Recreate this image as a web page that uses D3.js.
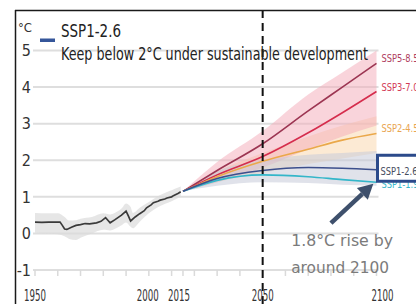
<!DOCTYPE html>
<html><head><meta charset="utf-8">
<script src="https://cdn.jsdelivr.net/npm/d3@7"></script>
<style>
html,body{margin:0;padding:0;background:#fff;}
svg{display:block;}
.narrow{font-family:"Liberation Sans Narrow","Arial Narrow","DejaVu Sans Condensed",sans-serif;font-stretch:condensed;}
</style></head>
<body><svg id="c" width="416" height="304"></svg>
<script>
// ---------- data ----------
const yTicks = [-1, 0, 1, 2, 3, 4, 5];
const yTickLabels = ["-1", "0", "1", "2", "3", "4", "5"];
const xMinorTicks = [1950,1960,1970,1980,1990,2000,2010,2015,2020,2030,2040,2050,2060,2070,2080,2090,2100];
const xLabelYears = [1950, 2000, 2015, 2050, 2100];
const xLabels = ["1950", "2000", "2015", "2050", "2100"];
const xLabelShift = [0, -1, -4, 0, 6];

const histYears = [1950,1953,1956,1959,1961,1962,1963,1964,1966,1968,1970,1972,1974,1977,1979,1981,1982,1983,1985,1988,1990,1991,1992,1994,1996,1998,1999,2001,2002,2004,2005,2007,2008,2010,2011,2013,2014];
const histValues = [0.31,0.30,0.31,0.31,0.31,0.22,0.12,0.11,0.17,0.22,0.24,0.27,0.26,0.29,0.33,0.43,0.36,0.29,0.37,0.50,0.61,0.48,0.34,0.45,0.54,0.62,0.70,0.78,0.84,0.88,0.91,0.94,0.97,1.00,1.04,1.10,1.14];
const histBandYears = [1950,1955,1960,1963,1965,1968,1970,1975,1980,1983,1985,1988,1990,1992,1993,1996,2000,2005,2010,2014];
const histBandUpper = [0.56,0.55,0.55,0.45,0.35,0.36,0.40,0.45,0.55,0.52,0.56,0.68,0.82,0.72,0.56,0.70,0.86,1.05,1.18,1.28];
const histBandLower = [0.02,0.00,-0.02,-0.08,-0.15,-0.18,-0.12,0.00,0.10,0.08,0.12,0.22,0.30,0.18,0.14,0.32,0.55,0.75,0.88,1.00];

const projYears = [2015, 2030, 2050, 2070, 2085, 2100];
const ssp585 = [1.15, 1.72, 2.45, 3.35, 4.00, 4.65];
const ssp370 = [1.15, 1.60, 2.10, 2.75, 3.30, 3.88];
const ssp245 = [1.15, 1.55, 1.97, 2.30, 2.55, 2.73];
const ssp126 = [1.15, 1.50, 1.72, 1.80, 1.78, 1.74];
const ssp119 = [1.15, 1.45, 1.60, 1.55, 1.47, 1.40];
const bandHighUpper = [1.15, 1.95, 2.80, 3.80, 4.40, 5.00];
const bandHighLower = [1.15, 1.40, 1.80, 2.30, 2.65, 2.95];
const bandMidUpper = [1.15, 1.70, 2.20, 2.65, 2.95, 3.20];
const bandMidLower = [1.15, 1.40, 1.65, 1.90, 2.05, 2.20];
const bandLowUpper = [1.15, 1.70, 2.00, 2.15, 2.20, 2.25];
const bandLowLower = [1.15, 1.30, 1.40, 1.38, 1.33, 1.30];

const seriesNames = ["SSP5-8.5", "SSP3-7.0", "SSP2-4.5", "SSP1-1.9", "SSP1-2.6"];
const seriesColors = ["#9c3552", "#d52d4d", "#eaa84a", "#33b6c9", "#3c4f8c"];
const labelColors = ["#b04060", "#d23a55", "#e9a550", "#38b8cc", "#454c5e"];
const labelOffsets = [-5, -4, -5, 2, 0];
const seriesValues = [ssp585, ssp370, ssp245, ssp119, ssp126];

const legendTitle = "SSP1-2.6";
const legendSubtitle = "Keep below 2°C under sustainable development";
const unitLabel = "°C";
const noteLines = ["1.8°C rise by", "around 2100"];
const noteAt = [2062.5, -0.34];
const noteLineGap = -0.74;
const arrowFrom = [2080, 0.28];
const arrowTo = [2098.6, 1.36];
const dashedYear = 2050;

// ---------- scales ----------
const svg = d3.select("#c");
const x = d3.scaleLinear().domain([1950, 2100]).range([35, 376.5]);
const y = d3.scaleLinear().domain([-1, 5]).range([270, 50.5]);

// gridlines
svg.append("g").selectAll("line").data(yTicks).join("line")
  .attr("x1", 33).attr("x2", x(2100) + 2)
  .attr("y1", d => y(d)).attr("y2", d => y(d))
  .attr("stroke", "#dedede").attr("stroke-width", 2);

// x ticks on -1 line
svg.append("g").selectAll("line").data(xMinorTicks).join("line")
  .attr("x1", d => x(d)).attr("x2", d => x(d))
  .attr("y1", y(-1)).attr("y2", y(-1) + 6)
  .attr("stroke", "#dadada").attr("stroke-width", 1.5);

// historical band
const histBand = histBandYears.map((yr, i) => ({yr, lo: histBandLower[i], hi: histBandUpper[i]}));
svg.append("path").datum(histBand)
  .attr("d", d3.area().x(d => x(d.yr)).y0(d => y(d.lo)).y1(d => y(d.hi)).curve(d3.curveMonotoneX))
  .attr("fill", "#dcdcdc").attr("opacity", 0.7);

// projection bands
function band(up, lo, fill, op) {
  const data = projYears.map((yr, i) => ({yr, lo: lo[i], hi: up[i]}));
  svg.append("path").datum(data)
    .attr("d", d3.area().x(d => x(d.yr)).y0(d => y(d.lo)).y1(d => y(d.hi)).curve(d3.curveMonotoneX))
    .attr("fill", fill).attr("opacity", op);
}
band(bandMidUpper, bandMidLower, "#f9d9b0", 0.55);
band(bandHighUpper, bandHighLower, "#f3a9b8", 0.5);
band(bandLowUpper, bandLowLower, "#c6cbd8", 0.55);

// historical line
const histLine = histYears.map((yr, i) => ({yr, v: histValues[i]}));
svg.append("path").datum(histLine)
  .attr("d", d3.line().x(d => x(d.yr)).y(d => y(d.v)))
  .attr("fill", "none").attr("stroke", "#3a3a3a").attr("stroke-width", 1.7);

// projection lines
seriesValues.forEach((vals, k) => {
  const data = projYears.map((yr, i) => ({yr, v: vals[i]}));
  svg.append("path").datum(data)
    .attr("d", d3.line().x(d => x(d.yr)).y(d => y(d.v)).curve(d3.curveMonotoneX))
    .attr("fill", "none").attr("stroke", seriesColors[k]).attr("stroke-width", 1.6);
});

// dashed 2050 line
svg.append("line")
  .attr("x1", x(dashedYear)).attr("x2", x(dashedYear))
  .attr("y1", 10).attr("y2", 304)
  .attr("stroke", "#111").attr("stroke-width", 2).attr("stroke-dasharray", "8,5");

// y labels
svg.append("g").attr("class", "narrow").selectAll("text").data(yTicks).join("text")
  .attr("x", 31).attr("y", d => y(d)).attr("dy", "0.36em")
  .attr("text-anchor", "end").attr("font-size", 16).attr("fill", "#333")
  .text((d, i) => yTickLabels[i]);

svg.append("text").attr("class", "narrow")
  .attr("x", 18).attr("y", 32).attr("font-size", 13).attr("fill", "#333").text(unitLabel);

// x labels
svg.append("g").attr("class", "narrow").selectAll("text").data(xLabelYears).join("text")
  .attr("x", (d, i) => x(d) + xLabelShift[i]).attr("y", 301)
  .attr("text-anchor", "middle").attr("font-size", 16).attr("fill", "#333")
  .attr("textLength", 22).attr("lengthAdjust", "spacingAndGlyphs")
  .text((d, i) => xLabels[i]);

// right labels
const labelX = x(2100) + 5;
seriesNames.forEach((name, k) => {
  if (name === "SSP1-2.6") return;
  const last = seriesValues[k][seriesValues[k].length - 1];
  svg.append("text").attr("class", "narrow")
    .attr("x", labelX).attr("y", y(last) + labelOffsets[k]).attr("dy", "0.35em")
    .attr("font-size", 11).attr("fill", labelColors[k])
    .attr("textLength", 37).attr("lengthAdjust", "spacingAndGlyphs").text(name);
});
// boxed SSP1-2.6 label
const k126 = seriesNames.indexOf("SSP1-2.6");
const yv126 = y(ssp126[ssp126.length - 1]);
svg.append("rect")
  .attr("x", x(2100) + 1).attr("y", yv126 - 14.5).attr("width", 60).attr("height", 26)
  .attr("fill", "#fff").attr("stroke", "#2b4a8b").attr("stroke-width", 3);
svg.append("text").attr("class", "narrow")
  .attr("x", labelX - 1).attr("y", yv126 + 1).attr("dy", "0.35em")
  .attr("font-size", 11).attr("fill", labelColors[k126])
  .attr("textLength", 37).attr("lengthAdjust", "spacingAndGlyphs").text("SSP1-2.6");

// legend
svg.append("rect").attr("x", 40).attr("y", 38.5).attr("width", 15).attr("height", 3.5).attr("fill", "#35569a");
svg.append("text").attr("class", "narrow").attr("x", 61).attr("y", 37)
  .attr("font-size", 17).attr("fill", "#222")
  .attr("textLength", 60).attr("lengthAdjust", "spacingAndGlyphs").text(legendTitle);
svg.append("text").attr("class", "narrow").attr("x", 61).attr("y", 59.5)
  .attr("font-size", 17).attr("fill", "#222")
  .attr("textLength", 307).attr("lengthAdjust", "spacingAndGlyphs").text(legendSubtitle);

// annotation text
noteLines.forEach((t, i) => {
  svg.append("text")
    .attr("x", x(noteAt[0])).attr("y", y(noteAt[1] + i * noteLineGap))
    .attr("font-family", "DejaVu Sans, Verdana, sans-serif")
    .attr("font-size", 15).attr("fill", "#7b7b7b")
    .attr("textLength", i === 0 ? 102 : 98).attr("lengthAdjust", "spacingAndGlyphs")
    .text(t);
});

// arrow
const ax1 = x(arrowFrom[0]), ay1 = y(arrowFrom[1]);
const ax2 = x(arrowTo[0]), ay2 = y(arrowTo[1]);
const ang = Math.atan2(ay2 - ay1, ax2 - ax1);
const headLen = 15, headW = 8;
const bx = ax2 - headLen * Math.cos(ang), by = ay2 - headLen * Math.sin(ang);
svg.append("line").attr("x1", ax1).attr("y1", ay1).attr("x2", bx).attr("y2", by)
  .attr("stroke", "#3e506c").attr("stroke-width", 4.5);
svg.append("path")
  .attr("d", d3.line()([[ax2, ay2],
    [bx + headW * Math.sin(ang), by - headW * Math.cos(ang)],
    [bx - headW * Math.sin(ang), by + headW * Math.cos(ang)]]) + "Z")
  .attr("fill", "#3e506c");

// frame
svg.append("line").attr("x1", 15.5).attr("x2", 15.5).attr("y1", 10).attr("y2", 304)
  .attr("stroke", "#1a1a1a").attr("stroke-width", 1.5);
svg.append("line").attr("x1", 15).attr("x2", 416).attr("y1", 10.5).attr("y2", 10.5)
  .attr("stroke", "#1a1a1a").attr("stroke-width", 1.5);
</script>
</body></html>
